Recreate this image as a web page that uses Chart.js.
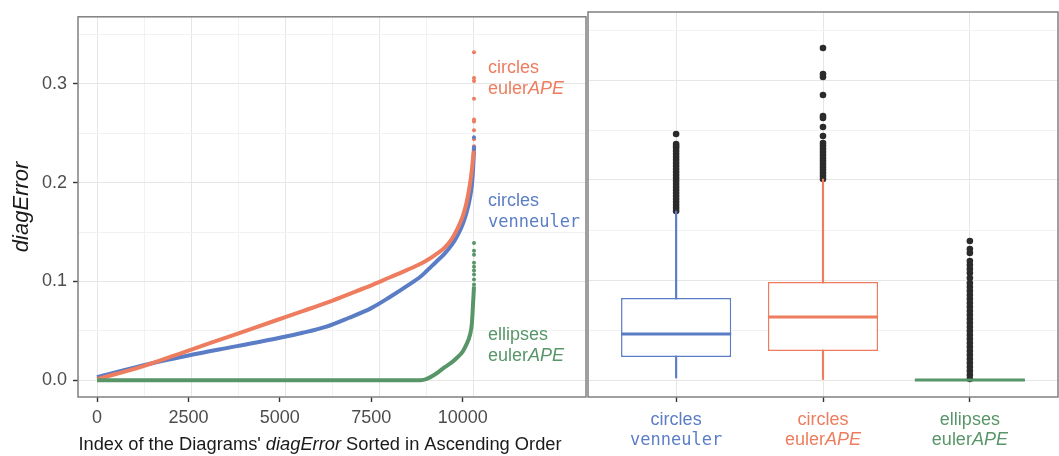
<!DOCTYPE html>
<html>
<head>
<meta charset="utf-8">
<title>diagError</title>
<script src="https://cdn.jsdelivr.net/npm/chart.js@4.4.1/dist/chart.umd.min.js"></script>
<style>
  html, body { margin: 0; padding: 0; background: #fff; overflow: hidden; }
  #wrap { position: relative; width: 1059px; height: 456px; overflow: hidden; }
  #sorted { position: absolute; left: 0; top: 0; }
  #boxes { position: absolute; left: 584px; top: 0; }
</style>
</head>
<body>
<div id="wrap">
  <canvas id="sorted" width="590" height="456"></canvas>
  <canvas id="boxes" width="478" height="456"></canvas>
</div>
<script>
'use strict';

// Sorted diagError of each method, sampled along the diagram index.
var sortIndex = [0, 1250, 2500, 3750, 5000, 5625, 6250, 6875, 7500, 8000, 8500, 8850, 9000, 9250, 9500, 9700, 9850, 10000, 10100, 10200, 10250, 10280, 10309];
var vennErr = [0.003, 0.015, 0.025, 0.034, 0.043, 0.048, 0.054, 0.063, 0.073, 0.084, 0.096, 0.105, 0.110, 0.119, 0.128, 0.137, 0.146, 0.158, 0.169, 0.185, 0.197, 0.211, 0.232];
var eulerErr = [0.001, 0.014, 0.030, 0.046, 0.062, 0.070, 0.078, 0.087, 0.096, 0.104, 0.112, 0.118, 0.121, 0.127, 0.134, 0.143, 0.153, 0.166, 0.179, 0.199, 0.213, 0.224, 0.235];
var ellipseErr = [0, 0, 0, 0, 0, 0, 0, 0, 0, 0, 0, 0, 0.001, 0.006, 0.013, 0.018, 0.023, 0.029, 0.036, 0.046, 0.057, 0.075, 0.095];

// Box statistics: lower whisker, Q1, median, Q3, upper whisker.
var vennStats = [0.002, 0.023, 0.046, 0.082, 0.169];
var eulerStats = [0.000, 0.029, 0.063, 0.098, 0.201];
var ellipseStats = [0, 0, 0, 0, 0];

// Values beyond the whiskers.
var vennOut = [0.169, 0.172, 0.175, 0.178, 0.181, 0.184, 0.187, 0.190, 0.193, 0.196, 0.199, 0.202, 0.205, 0.208, 0.211, 0.214, 0.217, 0.220, 0.223, 0.226, 0.229, 0.232, 0.234, 0.236, 0.246];
var eulerOut = [0.201, 0.204, 0.207, 0.210, 0.213, 0.216, 0.219, 0.222, 0.225, 0.228, 0.231, 0.234, 0.237, 0.244, 0.253, 0.262, 0.264, 0.285, 0.303, 0.306, 0.332];
var ellipseOut = [0.001, 0.005, 0.009, 0.013, 0.017, 0.021, 0.025, 0.029, 0.033, 0.037, 0.041, 0.045, 0.049, 0.053, 0.057, 0.061, 0.065, 0.069, 0.073, 0.077, 0.081, 0.085, 0.089, 0.093, 0.097, 0.102, 0.107, 0.111, 0.115, 0.119, 0.127, 0.131, 0.139];

// Axis breaks.
var indexTicks = [0, 2500, 5000, 7500, 10000];
var indexGrid = [0, 1289, 2577, 3866, 5154, 6443, 7731, 9020, 10309];
var errorTicks = [0, 0.1, 0.2, 0.3];
var errorGrid = [0, 0.05, 0.1, 0.15, 0.2, 0.25, 0.3, 0.35];

// Methods, in plotting order.
var shapes = ['circles', 'circles', 'ellipses'];
var methods = ['venneuler', 'eulerAPE', 'eulerAPE'];

var blue = '#5b7dc5';
var orange = '#ed7d5e';
var green = '#589669';
var colors = [blue, orange, green];

var sans = '"Liberation Sans", Arial, Helvetica, sans-serif';
var mono = '"DejaVu Sans Mono", "Liberation Mono", monospace';
var gridMajor = '#e6e6e6';
var gridMinor = '#f2f2f2';
var frameColor = '#808080';
var tickInk = '#333333';
var textInk = '#4d4d4d';

var last = sortIndex.length - 1;

function curve(err) {
  return sortIndex.map(function (x, i) {
    return {x: x, y: err[i]};
  });
}

// Points past the end of the drawn curve sit on the last index.
function tail(out, err) {
  return out.filter(function (v) {
    return v > err[last];
  }).map(function (v) {
    return {x: sortIndex[last], y: v};
  });
}

function isMajor(v) {
  return errorTicks.some(function (t) {
    return Math.abs(t - v) < 1e-6;
  });
}

// A method name: monospace for venneuler, italic suffix for eulerAPE.
function methodParts(name) {
  if (name === 'venneuler') {
    return [{t: 'venneuler', f: '17px ' + mono}];
  }
  return [{t: 'euler', f: '18px ' + sans}, {t: 'APE', f: 'italic 18px ' + sans}];
}

function drawParts(ctx, parts, x, y, align) {
  var w = 0;
  parts.forEach(function (p) {
    ctx.font = p.f;
    w += ctx.measureText(p.t).width;
  });
  var cx = align === 'center' ? x - w / 2 : x;
  ctx.textAlign = 'left';
  parts.forEach(function (p) {
    ctx.font = p.f;
    ctx.fillText(p.t, cx, y);
    cx += ctx.measureText(p.t).width;
  });
}

function errorGridColor(c) {
  return isMajor(c.tick.value) ? gridMajor : gridMinor;
}

var yScale = {
  type: 'linear',
  min: -0.017,
  max: 0.368,
  afterBuildTicks: function (s) {
    s.ticks = errorGrid.map(function (v) { return {value: v}; });
  },
  ticks: {
    padding: 6,
    color: textInk,
    font: {family: sans, size: 18},
    callback: function (v) {
      return isMajor(v) ? v.toFixed(1) : '';
    }
  },
  grid: {
    color: errorGridColor,
    lineWidth: 1,
    tickLength: 5,
    tickWidth: 1.4,
    tickColor: function (c) {
      return isMajor(c.tick.value) ? tickInk : 'rgba(0,0,0,0)';
    }
  },
  border: {display: false}
};

// Frame, in-panel method labels and axis titles for the sorted panel.
var sortedDecor = {
  id: 'sortedDecor',
  afterDraw: function (chart) {
    var ctx = chart.ctx;
    var a = chart.chartArea;
    var xs = chart.scales.x;
    var ys = chart.scales.y;
    ctx.save();
    ctx.strokeStyle = frameColor;
    ctx.lineWidth = 1.5;
    ctx.strokeRect(a.left, a.top, a.right - a.left, a.bottom - a.top);

    var lx = xs.getPixelForValue(sortIndex[last]) + 14;
    var anchors = [0.181, 0.316, 0.046];
    ctx.textBaseline = 'middle';
    [0, 1, 2].forEach(function (i) {
      var y = ys.getPixelForValue(anchors[i]);
      ctx.fillStyle = colors[i];
      drawParts(ctx, [{t: shapes[i], f: '18px ' + sans}], lx, y, 'left');
      drawParts(ctx, methodParts(methods[i]), lx, y + 21, 'left');
    });

    ctx.fillStyle = '#1a1a1a';
    ctx.textBaseline = 'alphabetic';
    drawParts(ctx, [
      {t: 'Index of the Diagrams\' ', f: '18.3px ' + sans},
      {t: 'diagError', f: 'italic 18.3px ' + sans},
      {t: ' Sorted in Ascending Order', f: '18.3px ' + sans}
    ], 320, 450, 'center');

    ctx.translate(22, (a.top + a.bottom) / 2);
    ctx.rotate(-Math.PI / 2);
    ctx.textBaseline = 'middle';
    drawParts(ctx, [{t: 'diagError', f: 'italic 22px ' + sans}], 0, 0, 'center');
    ctx.restore();
  }
};

function lineSet(err, color, order) {
  return {
    data: curve(err),
    showLine: true,
    borderColor: color,
    borderWidth: 4,
    pointRadius: 0,
    cubicInterpolationMode: 'monotone',
    order: order
  };
}

function tailSet(out, err, color) {
  return {
    data: tail(out, err),
    showLine: false,
    pointRadius: 2,
    pointBorderWidth: 0,
    pointBackgroundColor: color,
    order: 0
  };
}

new Chart(document.getElementById('sorted'), {
  type: 'scatter',
  data: {
    datasets: [
      lineSet(vennErr, blue, 3),
      lineSet(eulerErr, orange, 2),
      lineSet(ellipseErr, green, 1),
      tailSet(vennOut, vennErr, blue),
      tailSet(eulerOut, eulerErr, orange),
      tailSet(ellipseOut, ellipseErr, green)
    ]
  },
  options: {
    responsive: false,
    animation: false,
    layout: {padding: {top: 12, right: 1, left: 0, bottom: 0}},
    plugins: {legend: {display: false}, tooltip: {enabled: false}},
    scales: {
      x: {
        type: 'linear',
        position: 'bottom',
        min: -520,
        max: 13372,
        afterBuildTicks: function (s) {
          s.ticks = indexTicks.map(function (v) { return {value: v}; });
        },
        afterFit: function (s) { s.height = 59; },
        ticks: {
          padding: 5,
          maxRotation: 0,
          color: textInk,
          font: {family: sans, size: 18},
          callback: function (v) { return String(v); }
        },
        grid: {
          drawOnChartArea: false,
          tickLength: 5,
          tickWidth: 1.4,
          tickColor: tickInk
        },
        border: {display: false}
      },
      xg: {
        type: 'linear',
        position: 'bottom',
        min: -520,
        max: 13372,
        afterBuildTicks: function (s) {
          s.ticks = indexGrid.map(function (v) { return {value: v}; });
        },
        afterFit: function (s) { s.height = 0; },
        ticks: {display: false},
        grid: {
          drawTicks: false,
          color: function (c) { return c.index % 2 === 0 ? gridMajor : gridMinor; }
        },
        border: {display: false}
      },
      y: Object.assign({}, yScale, {
        afterFit: function (s) { s.width = 78; }
      })
    }
  },
  plugins: [sortedDecor]
});

// Box plots.
var stats = [vennStats, eulerStats, ellipseStats];
var outs = [vennOut, eulerOut, ellipseOut];

var whiskerData = stats.map(function (s, i) {
  return {x: i + 1, y: [s[0], s[4]]};
});
var boxData = stats.map(function (s, i) {
  return {x: i + 1, y: [s[1], s[3]]};
});
var outlierData = [];
outs.forEach(function (o, i) {
  o.forEach(function (v) {
    outlierData.push({x: i + 1, y: v});
  });
});

// Frame, median bars and method labels for the box panel.
var boxDecor = {
  id: 'boxDecor',
  afterDatasetsDraw: function (chart) {
    var ctx = chart.ctx;
    var ys = chart.scales.y;
    var boxes = chart.getDatasetMeta(1).data;
    ctx.save();
    ctx.lineWidth = 3;
    boxes.forEach(function (el, i) {
      var y = ys.getPixelForValue(stats[i][2]);
      ctx.strokeStyle = colors[i];
      ctx.beginPath();
      ctx.moveTo(el.x - el.width / 2, y);
      ctx.lineTo(el.x + el.width / 2, y);
      ctx.stroke();
    });
    ctx.restore();
  },
  afterDraw: function (chart) {
    var ctx = chart.ctx;
    var a = chart.chartArea;
    var xs = chart.scales.x;
    ctx.save();
    ctx.strokeStyle = frameColor;
    ctx.lineWidth = 1.5;
    ctx.strokeRect(a.left, a.top, a.right - a.left, a.bottom - a.top);
    ctx.textBaseline = 'alphabetic';
    [0, 1, 2].forEach(function (i) {
      var x = xs.getPixelForValue(i + 1);
      ctx.fillStyle = colors[i];
      drawParts(ctx, [{t: shapes[i], f: '18px ' + sans}], x, 425, 'center');
      drawParts(ctx, methodParts(methods[i]), x, 445, 'center');
    });
    ctx.restore();
  }
};

new Chart(document.getElementById('boxes'), {
  type: 'bar',
  data: {
    datasets: [
      {
        data: whiskerData,
        backgroundColor: colors,
        barThickness: 1.5,
        grouped: false,
        order: 3
      },
      {
        data: boxData,
        backgroundColor: '#ffffff',
        borderColor: colors,
        borderWidth: 1.5,
        borderSkipped: false,
        barPercentage: 0.75,
        categoryPercentage: 1,
        grouped: false,
        order: 2
      },
      {
        type: 'scatter',
        data: outlierData,
        pointRadius: 3.3,
        pointBorderWidth: 0,
        pointBackgroundColor: '#2b2b2b',
        order: 4
      }
    ]
  },
  options: {
    responsive: false,
    animation: false,
    layout: {padding: {top: 12, right: 1, left: 1, bottom: 0}},
    plugins: {legend: {display: false}, tooltip: {enabled: false}},
    scales: {
      x: {
        type: 'linear',
        min: 0.4,
        max: 3.6,
        offset: false,
        afterBuildTicks: function (s) {
          s.ticks = [1, 2, 3].map(function (v) { return {value: v}; });
        },
        afterFit: function (s) { s.height = 59; },
        ticks: {callback: function () { return ''; }},
        grid: {
          offset: false,
          color: gridMajor,
          tickLength: 5,
          tickWidth: 1.4,
          tickColor: tickInk
        },
        border: {display: false}
      },
      y: Object.assign({}, yScale, {
        afterFit: function (s) { s.width = 0; },
        ticks: {display: false},
        grid: {color: errorGridColor, drawTicks: false}
      })
    }
  },
  plugins: [boxDecor]
});
</script>
</body>
</html>
